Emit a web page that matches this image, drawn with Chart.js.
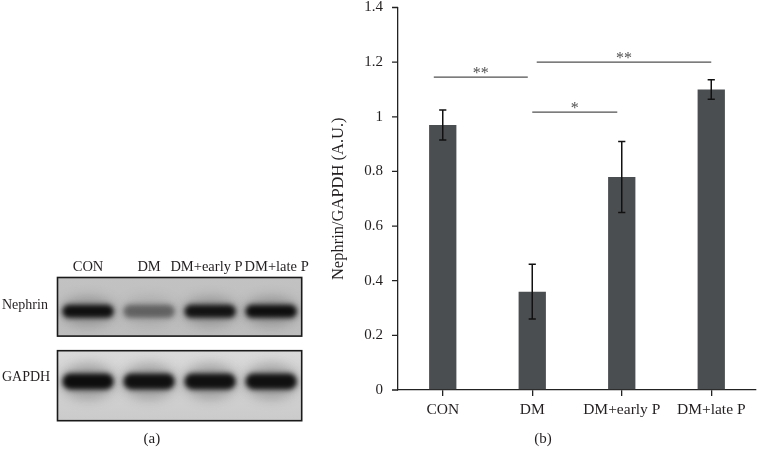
<!DOCTYPE html>
<html>
<head>
<meta charset="utf-8">
<script src="https://cdn.jsdelivr.net/npm/chart.js@4.4.1/dist/chart.umd.min.js"></script>
<style>
  html, body { margin: 0; padding: 0; background: #ffffff; }
  #wrap { position: relative; width: 757px; height: 450px; overflow: hidden; }
  #blot { position: absolute; left: 0; top: 0; }
  #bars { position: absolute; left: 330px; top: 0; }
</style>
</head>
<body>
<div id="wrap">
  <canvas id="blot" width="394" height="450"></canvas>
  <canvas id="bars" width="427" height="450"></canvas>
</div>
<script>
// ---- data ----
const groups = ['CON', 'DM', 'DM+early P', 'DM+late P'];
const blotRows = ['Nephrin', 'GAPDH'];
const nephrinBand = [0.95, 0.45, 0.92, 0.96];   // relative band density (a)
const gapdhBand = [0.97, 0.95, 0.95, 0.95];
const ratioMeans = [0.97, 0.36, 0.78, 1.10];      // Nephrin/GAPDH (b)
const ratioErrors = [0.055, 0.10, 0.13, 0.036];
const yTickLabels = ['0', '0.2', '0.4', '0.6', '0.8', '1', '1.2', '1.4'];
const sigFrom = [-0.1, 1.05, 1.0];
const sigTo = [0.95, 3.0, 1.95];
const sigLevel = [1.145, 1.2, 1.017];
const sigMark = ['**', '**', '*'];

const FONT = "'Liberation Serif', 'DejaVu Serif', serif";
const TXT = '#231f20';
// spacing so the crowded lane headers of the blot do not collide
const lanePad = [[0, 0], [0, 0], [0, 2], [3, 0]];

// ---- panel (a): western blot ----
const blotPlugin = {
  id: 'blotDraw',
  beforeDatasetsDraw(chart, args, opts) {
    const ctx = chart.ctx;
    const xs = chart.scales.x, ys = chart.scales.y;
    const area = chart.chartArea;
    const rowH = ys.getPixelForValue(1) - ys.getPixelForValue(0);
    const laneW = xs.getPixelForValue(1) - xs.getPixelForValue(0);
    const bands = [nephrinBand, gapdhBand];
    blotRows.forEach((row, r) => {
      const cy = ys.getPixelForValue(r);
      const top = cy - rowH / 2 + opts.insetTop[r];
      const bottom = cy + rowH / 2 - opts.insetBottom[r];
      const left = area.left, right = area.right;
      ctx.save();
      const g = ctx.createLinearGradient(0, top, 0, bottom);
      g.addColorStop(0, opts.bgTop[r]);
      g.addColorStop(1, opts.bgBottom[r]);
      ctx.fillStyle = g;
      ctx.fillRect(left, top, right - left, bottom - top);
      ctx.beginPath();
      ctx.rect(left, top, right - left, bottom - top);
      ctx.clip();
      const bcy = cy + opts.bandShift[r];
      const bh = opts.bandHeight[r];
      bands[r].forEach((v, i) => {
        const cx = xs.getPixelForValue(i);
        const bw = laneW * opts.bandWidth;
        ctx.filter = 'blur(6px)';
        ctx.fillStyle = 'rgba(60,60,60,' + (0.35 * v) + ')';
        ctx.beginPath();
        ctx.ellipse(cx, bcy, bw / 2 + 2, bh * 1.1, 0, 0, Math.PI * 2);
        ctx.fill();
        ctx.filter = 'blur(2.6px)';
        ctx.fillStyle = 'rgba(8,8,8,' + v + ')';
        ctx.beginPath();
        ctx.roundRect(cx - bw / 2, bcy - bh / 2, bw, bh, bh / 2);
        ctx.fill();
      });
      ctx.restore();
      ctx.save();
      ctx.strokeStyle = '#1a1a1a';
      ctx.lineWidth = 1.6;
      ctx.strokeRect(left, top, right - left, bottom - top);
      ctx.restore();
    });
  }
};

new Chart(document.getElementById('blot'), {
  type: 'bar',
  data: { labels: groups, datasets: [] },
  options: {
    responsive: false,
    animation: false,
    layout: { padding: { left: 2, right: 92.3, top: 259.5, bottom: 3.3 } },
    plugins: {
      legend: { display: false },
      tooltip: { enabled: false },
      title: {
        display: true, position: 'bottom', text: '(a)', color: TXT,
        font: { family: FONT, size: 15, weight: 'normal', lineHeight: 1 },
        padding: { top: 11, bottom: 0 }
      },
      blotDraw: {
        insetTop: [0, 1.6], insetBottom: [13, 0],
        bgTop: ['#c2c2c2', '#dadada'], bgBottom: ['#bdbdbd', '#cbcbcb'],
        bandShift: [-2, -3.5], bandHeight: [13, 16], bandWidth: 0.84
      }
    },
    scales: {
      x: {
        type: 'category', position: 'top', offset: true,
        grid: { display: false, drawTicks: false }, border: { display: false },
        ticks: {
          color: TXT, font: { family: FONT, size: 14.5, lineHeight: 1 }, padding: 3, autoSkip: false, maxRotation: 0,
          callback: (v, i) => ' '.repeat(lanePad[i][0]) + groups[i] + ' '.repeat(lanePad[i][1])
        },
        afterFit: (s) => { s.height = 18; }
      },
      y: {
        type: 'category', labels: blotRows, offset: true, position: 'left',
        grid: { display: false, drawTicks: false }, border: { display: false },
        ticks: { color: TXT, crossAlign: 'far', labelOffset: -8, padding: 0, font: { family: FONT, size: 14, lineHeight: 1 } },
        afterFit: (s) => { s.width = 55.5; }
      }
    }
  },
  plugins: [blotPlugin]
});

// ---- panel (b): bar chart ----
const yTickMarks = {
  id: 'yTickMarks',
  afterDraw(chart) {
    const ctx = chart.ctx, ys = chart.scales.y;
    const x0 = chart.chartArea.left;
    ctx.save();
    ctx.strokeStyle = '#222';
    ctx.lineWidth = 1.3;
    ctx.beginPath();
    ys.ticks.forEach((t) => {
      const y = ys.getPixelForValue(t.value);
      ctx.moveTo(x0 - 6, y); ctx.lineTo(x0, y);
    });
    ctx.stroke();
    ctx.restore();
  }
};

const errorBars = {
  id: 'errorBars',
  afterDatasetsDraw(chart) {
    const ctx = chart.ctx, ys = chart.scales.y;
    const meta = chart.getDatasetMeta(0);
    ctx.save();
    ctx.strokeStyle = '#111';
    ctx.lineWidth = 1.5;
    meta.data.forEach((bar, i) => {
      const x = bar.x;
      const yt = ys.getPixelForValue(ratioMeans[i] + ratioErrors[i]);
      const yb = ys.getPixelForValue(ratioMeans[i] - ratioErrors[i]);
      ctx.beginPath();
      ctx.moveTo(x, yt); ctx.lineTo(x, yb);
      ctx.moveTo(x - 3.6, yt); ctx.lineTo(x + 3.6, yt);
      ctx.moveTo(x - 3.6, yb); ctx.lineTo(x + 3.6, yb);
      ctx.stroke();
    });
    ctx.restore();
  }
};

const sigBrackets = {
  id: 'sigBrackets',
  afterDatasetsDraw(chart) {
    const ctx = chart.ctx, xs = chart.scales.x, ys = chart.scales.y;
    ctx.save();
    ctx.strokeStyle = '#505050';
    ctx.fillStyle = '#505050';
    ctx.lineWidth = 1.4;
    ctx.font = '16px ' + FONT;
    ctx.textAlign = 'center';
    ctx.textBaseline = 'alphabetic';
    sigLevel.forEach((lv, k) => {
      const x1 = xs.getPixelForValue(sigFrom[k]);
      const x2 = xs.getPixelForValue(sigTo[k]);
      const y = ys.getPixelForValue(lv);
      ctx.beginPath();
      ctx.moveTo(x1, y); ctx.lineTo(x2, y);
      ctx.stroke();
      ctx.fillText(sigMark[k], (x1 + x2) / 2, y + 1);
    });
    ctx.restore();
  }
};

new Chart(document.getElementById('bars'), {
  type: 'bar',
  data: {
    labels: groups,
    datasets: [{
      data: ratioMeans,
      backgroundColor: '#4b4e50',
      borderWidth: 0,
      barPercentage: 0.305,
      categoryPercentage: 1
    }]
  },
  options: {
    responsive: false,
    animation: false,
    layout: { padding: { left: 0, right: 1, top: 0, bottom: 0 } },
    plugins: {
      legend: { display: false },
      tooltip: { enabled: false },
      title: {
        display: true, position: 'bottom', text: '(b)', color: TXT,
        font: { family: FONT, size: 15, weight: 'normal', lineHeight: 1 },
        padding: { top: 8.5, bottom: 3 }
      }
    },
    scales: {
      x: {
        grid: { offset: false, drawOnChartArea: false, tickLength: 6, color: '#222', lineWidth: 1.3 },
        border: { color: '#222', width: 1.3 },
        ticks: { color: TXT, font: { family: FONT, size: 15.5, lineHeight: 1 }, padding: 6, autoSkip: false, maxRotation: 0 }
      },
      y: {
        min: 0, max: 1.4,
        grid: { drawOnChartArea: false, tickLength: 15, tickColor: 'rgba(0,0,0,0)', lineWidth: 1.3 },
        border: { color: '#222', width: 1.3 },
        ticks: {
          stepSize: 0.2, color: TXT, padding: 0,
          font: { family: FONT, size: 15, lineHeight: 1 },
          callback: (v, i) => yTickLabels[i]
        },
        title: {
          display: true, text: 'Nephrin/GAPDH (A.U.)', color: TXT,
          font: { family: FONT, size: 16.5, lineHeight: 1 }, padding: 0
        },
        afterFit: (s) => { s.width = 68; }
      }
    }
  },
  plugins: [yTickMarks, errorBars, sigBrackets]
});
</script>
</body>
</html>
